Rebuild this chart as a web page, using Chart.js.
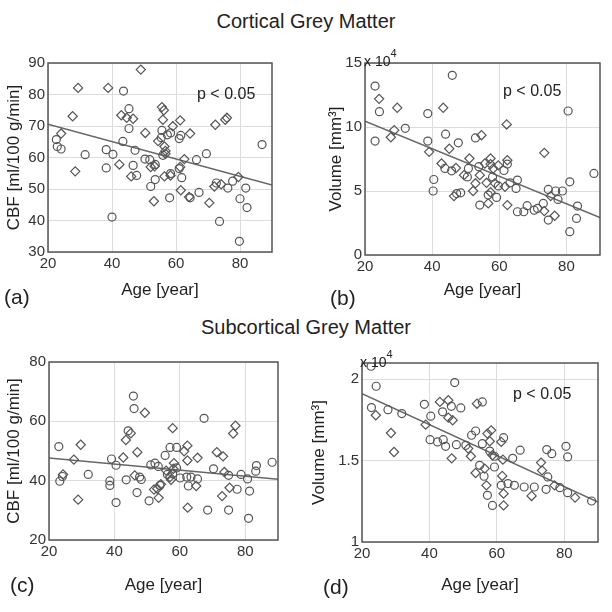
<!DOCTYPE html>
<html>
<head>
<meta charset="utf-8">
<script src="https://cdn.jsdelivr.net/npm/chart.js@4.4.1/dist/chart.umd.min.js"></script>
<style>
  body { margin: 0; background: #fff; font-family: "Liberation Sans", Arial, sans-serif; color: #222; }
  #fig { position: relative; width: 612px; height: 612px; overflow: hidden; }
  canvas { position: absolute; }
  .txt { position: absolute; white-space: nowrap; line-height: 1; }
  .txt sup { font-size: 11px; vertical-align: 9px; }
</style>
</head>
<body>
<div id="fig">
  <canvas id="chartA" width="282" height="255" style="left:0;top:50px"></canvas>
  <canvas id="chartB" width="288" height="255" style="left:322px;top:50px"></canvas>
  <canvas id="chartC" width="288" height="250" style="left:0;top:350px"></canvas>
  <canvas id="chartD" width="303" height="250" style="left:305px;top:350px"></canvas>

  <div class="txt" style="left:0;width:612px;text-align:center;top:11px;font-size:20px">Cortical Grey Matter</div>
  <div class="txt" style="left:0;width:612px;text-align:center;top:317px;font-size:20px">Subcortical Grey Matter</div>

  <div class="txt" style="left:197px;top:86px;font-size:16px">p &lt; 0.05</div>
  <div class="txt" style="left:503px;top:83px;font-size:16px">p &lt; 0.05</div>
  <div class="txt" style="left:513px;top:386px;font-size:16px">p &lt; 0.05</div>

  <div class="txt" style="left:364px;top:48px;font-size:14px">x 10<sup>4</sup></div>
  <div class="txt" style="left:360px;top:349px;font-size:14px">x 10<sup>4</sup></div>

  <div class="txt" style="left:4px;top:286px;font-size:21px">(a)</div>
  <div class="txt" style="left:330px;top:287px;font-size:21px">(b)</div>
  <div class="txt" style="left:10px;top:574px;font-size:21px">(c)</div>
  <div class="txt" style="left:323px;top:576px;font-size:21px">(d)</div>
</div>

<script>
// shared axis
const xTickVals = [20, 40, 60, 80];
const fitAge = [20, 90];

// (a) cortical CBF [ml/100 g/min]
const aCircAge = [43.6, 45.3, 45.3, 22.6, 22.9, 24.1, 31.6, 43.4, 38.2, 40.3, 38.2, 46.6, 47.2, 47.7, 40.0, 50.3, 51.8, 53.5, 52.1, 53.5, 55.4, 55.6, 55.9, 57.3, 58.3, 58.3, 58.0, 61.0, 61.5, 61.0, 61.8, 64.4, 66.4, 67.2, 69.5, 72.6, 73.6, 76.2, 77.7, 80.0, 81.8, 82.2, 79.8, 86.9];
const aCircVal = [81.1, 75.5, 69.2, 65.7, 63.5, 62.7, 60.9, 65.1, 62.5, 61.0, 56.7, 57.5, 62.3, 54.3, 41.1, 59.5, 59.3, 57.8, 50.8, 53.0, 66.3, 68.6, 60.7, 67.2, 67.8, 54.9, 47.2, 66.0, 67.0, 56.5, 53.6, 47.2, 59.3, 48.9, 61.2, 51.9, 39.7, 50.3, 52.5, 46.9, 50.3, 44.1, 33.4, 64.1];
const aDiaAge = [49.0, 29.4, 38.8, 27.7, 42.9, 44.6, 46.6, 24.1, 28.5, 42.3, 46.0, 50.4, 52.1, 53.3, 53.1, 54.4, 55.6, 56.2, 55.9, 56.4, 56.7, 56.7, 56.4, 59.0, 58.3, 61.3, 61.3, 61.5, 62.6, 64.4, 64.1, 70.4, 72.3, 72.0, 74.1, 75.4, 75.9, 79.5];
const aDiaVal = [87.9, 82.1, 82.1, 73.1, 73.4, 72.6, 72.3, 67.6, 55.6, 57.8, 54.0, 67.8, 57.0, 57.2, 46.1, 65.2, 76.0, 75.0, 72.0, 63.5, 62.1, 61.2, 54.0, 69.9, 54.3, 71.8, 57.0, 49.6, 59.5, 67.6, 47.5, 45.6, 70.4, 50.8, 51.5, 72.0, 72.6, 53.8];
const aFit = [70.6, 51.3];
const aYTicks = [30, 40, 50, 60, 70, 80, 90];

// (b) cortical volume [mm^3], in units of 10^4
const bCircAge = [46.0, 23.0, 24.3, 38.7, 23.0, 32.0, 38.7, 44.0, 47.8, 40.5, 40.3, 43.8, 45.8, 47.3, 48.5, 50.8, 52.9, 53.9, 54.2, 56.7, 58.0, 59.2, 59.7, 62.4, 63.2, 65.0, 65.4, 65.4, 67.3, 68.3, 70.4, 71.4, 73.1, 74.6, 74.6, 76.8, 77.5, 78.8, 80.5, 81.0, 81.0, 83.3, 83.0, 88.2, 50.5, 61.4];
const bCircVal = [14.04, 13.2, 11.2, 11.05, 8.9, 9.9, 8.9, 9.44, 8.76, 5.9, 5.0, 6.76, 6.58, 4.8, 4.86, 6.76, 9.15, 6.9, 3.9, 4.68, 6.1, 4.5, 5.4, 7.1, 5.64, 5.2, 5.85, 3.38, 3.38, 3.85, 3.5, 3.64, 4.03, 2.73, 5.12, 5.0, 4.34, 5.0, 11.25, 5.72, 1.82, 3.82, 2.86, 6.37, 6.1, 6.6];
const bDiaAge = [24.2, 29.6, 43.3, 28.7, 27.7, 39.1, 45.1, 42.8, 47.1, 46.5, 49.5, 51.1, 54.7, 52.2, 52.9, 54.2, 55.7, 56.2, 56.7, 57.4, 57.4, 57.4, 58.2, 58.7, 59.7, 62.2, 62.4, 61.7, 62.4, 73.4, 73.4, 75.3, 76.5];
const bDiaVal = [12.2, 11.5, 11.5, 9.75, 9.2, 8.06, 8.3, 7.15, 6.8, 4.6, 6.24, 7.54, 9.36, 5.0, 5.6, 6.24, 7.15, 5.64, 4.03, 7.54, 7.1, 4.9, 6.76, 5.6, 7.0, 10.2, 7.4, 5.33, 3.9, 3.43, 7.98, 4.6, 3.07];
const bFit = [10.45, 2.92];
const bYTicks = [0, 5, 10, 15];

// (c) subcortical CBF [ml/100 g/min]
const cCircAge = [45.8, 46.0, 67.4, 44.2, 23.0, 39.1, 40.5, 23.3, 24.1, 32.0, 38.6, 38.6, 40.5, 43.6, 47.7, 48.2, 46.9, 50.6, 51.1, 52.4, 53.4, 53.9, 55.5, 57.0, 56.2, 57.8, 59.0, 59.0, 60.1, 62.6, 62.1, 63.4, 65.4, 68.5, 70.3, 74.9, 74.9, 77.5, 78.7, 80.7, 81.3, 81.0, 83.4, 83.2, 88.2];
const cCircVal = [68.5, 64.3, 61.0, 56.8, 51.5, 47.3, 45.2, 39.8, 41.4, 42.1, 39.9, 38.4, 32.6, 40.3, 41.2, 40.4, 36.0, 33.2, 45.3, 45.9, 44.8, 38.4, 48.5, 51.2, 42.1, 42.3, 51.2, 44.3, 40.9, 38.2, 41.2, 41.2, 40.6, 30.1, 44.0, 41.8, 30.1, 37.1, 42.1, 40.6, 36.5, 27.3, 45.1, 43.2, 46.2];
const cDiaAge = [49.3, 77.0, 76.3, 57.8, 45.0, 43.5, 29.7, 47.0, 42.7, 27.6, 24.3, 28.9, 46.2, 52.1, 53.1, 54.2, 53.5, 55.8, 57.0, 57.3, 58.0, 58.2, 61.3, 62.3, 62.3, 62.4, 65.0, 65.4, 71.3, 73.2, 72.9, 73.6, 75.2];
const cDiaVal = [62.9, 58.5, 55.9, 57.7, 56.0, 53.7, 52.1, 49.6, 47.8, 47.1, 42.1, 33.6, 41.8, 37.0, 37.3, 38.8, 34.2, 43.4, 41.2, 40.3, 44.0, 45.9, 49.9, 51.8, 46.8, 30.9, 38.2, 47.7, 49.6, 48.2, 34.8, 42.9, 37.6];
const cFit = [47.6, 40.5];
const cYTicks = [20, 40, 60, 80];

// (d) subcortical volume [mm^3], in units of 10^4
const dCircAge = [22.7, 24.2, 47.5, 22.8, 27.7, 31.8, 38.5, 40.4, 40.2, 43.9, 46.5, 49.3, 42.4, 44.1, 44.8, 48.0, 50.8, 55.7, 52.5, 53.7, 54.9, 55.7, 56.2, 57.2, 57.9, 58.7, 59.3, 59.3, 62.0, 61.3, 63.3, 64.7, 65.2, 66.9, 68.1, 71.1, 74.8, 75.1, 74.6, 76.3, 78.7, 80.5, 81.0, 81.0, 88.1];
const dCircVal = [2.08, 1.957, 1.98, 1.826, 1.813, 1.789, 1.846, 1.773, 1.629, 1.8, 1.834, 1.824, 1.615, 1.629, 1.588, 1.598, 1.594, 1.861, 1.656, 1.682, 1.471, 1.604, 1.404, 1.287, 1.559, 1.225, 1.461, 1.527, 1.641, 1.348, 1.359, 1.514, 1.348, 1.564, 1.338, 1.338, 1.568, 1.4, 1.324, 1.543, 1.334, 1.588, 1.523, 1.303, 1.252];
const dDiaAge = [24.1, 28.6, 29.5, 38.9, 43.1, 45.6, 45.6, 46.9, 46.6, 51.5, 52.3, 54.1, 53.7, 56.4, 56.9, 57.2, 58.3, 57.9, 58.7, 61.3, 61.8, 61.6, 62.0, 62.0, 70.3, 73.1, 73.4, 77.1, 83.2];
const dDiaVal = [1.779, 1.67, 1.553, 1.721, 1.861, 1.871, 1.764, 1.748, 1.514, 1.574, 1.527, 1.85, 1.424, 1.451, 1.348, 1.666, 1.686, 1.619, 1.533, 1.615, 1.506, 1.406, 1.297, 1.225, 1.283, 1.488, 1.44, 1.348, 1.273];
const dFit = [1.912, 1.246];
const dYTicks = [1, 1.5, 2];

const markColor = "#555";
const textColor = "#333";

function pts(xs, ys) {
  return xs.map((x, i) => ({ x: x, y: ys[i] }));
}

// matlab style box round the plot area
const boxPlugin = {
  id: "box",
  afterDatasetsDraw(chart) {
    const a = chart.chartArea;
    const c = chart.ctx;
    c.save();
    c.strokeStyle = "#555";
    c.lineWidth = 1.5;
    c.strokeRect(a.left, a.top, a.right - a.left, a.bottom - a.top);
    c.restore();
  },
};

function makePanel(id, o) {
  return new Chart(document.getElementById(id), {
    type: "scatter",
    data: {
      datasets: [
        {
          data: pts(o.circAge, o.circVal),
          pointStyle: "circle",
          pointRadius: 4,
          borderColor: markColor,
          backgroundColor: "rgba(0,0,0,0)",
          borderWidth: 1.2,
        },
        {
          data: pts(o.diaAge, o.diaVal),
          pointStyle: "rectRot",
          pointRadius: 4.6,
          borderColor: markColor,
          backgroundColor: "rgba(0,0,0,0)",
          borderWidth: 1.2,
        },
        {
          data: pts(fitAge, o.fit),
          showLine: true,
          pointRadius: 0,
          borderColor: "#666",
          borderWidth: 1.5,
        },
      ],
    },
    options: {
      responsive: false,
      animation: false,
      events: [],
      layout: { padding: { top: o.padTop, right: 10, left: 0, bottom: 0 } },
      plugins: { legend: { display: false }, tooltip: { enabled: false } },
      scales: {
        x: {
          type: "linear",
          min: 20,
          max: 90,
          afterBuildTicks: (s) => { s.ticks = xTickVals.map((v) => ({ value: v })); },
          afterFit: (s) => { s.height = o.xH; },
          grid: { color: "#dcdcdc", drawTicks: false },
          border: { display: false },
          ticks: { color: textColor, font: { size: 15 }, padding: 3, maxRotation: 0 },
          title: { display: true, text: "Age [year]", color: "#222", font: { size: 17 }, padding: { top: 0, bottom: 4 } },
        },
        y: {
          type: "linear",
          min: o.yMin,
          max: o.yMax,
          afterBuildTicks: (s) => { s.ticks = o.yTicks.map((v) => ({ value: v })); },
          afterFit: (s) => { s.width = o.yW; },
          grid: { color: "#dcdcdc", drawTicks: false },
          border: { display: false },
          ticks: { color: textColor, font: { size: 15 }, padding: 3, callback: (v) => String(v) },
          title: { display: true, text: o.yTitle, color: "#222", font: { size: 17 }, padding: { top: 4, bottom: 0 } },
        },
      },
    },
    plugins: [boxPlugin],
  });
}

makePanel("chartA", {
  circAge: aCircAge, circVal: aCircVal, diaAge: aDiaAge, diaVal: aDiaVal, fit: aFit,
  yMin: 30, yMax: 90, yTicks: aYTicks, yTitle: "CBF [ml/100 g/min]",
  padTop: 13, yW: 48, xH: 53,
});
makePanel("chartB", {
  circAge: bCircAge, circVal: bCircVal, diaAge: bDiaAge, diaVal: bDiaVal, fit: bFit,
  yMin: 0, yMax: 15, yTicks: bYTicks, yTitle: "Volume [mm³]",
  padTop: 13, yW: 43, xH: 50,
});
makePanel("chartC", {
  circAge: cCircAge, circVal: cCircVal, diaAge: cDiaAge, diaVal: cDiaVal, fit: cFit,
  yMin: 20, yMax: 80, yTicks: cYTicks, yTitle: "CBF [ml/100 g/min]",
  padTop: 11, yW: 49, xH: 60,
});
makePanel("chartD", {
  circAge: dCircAge, circVal: dCircVal, diaAge: dDiaAge, diaVal: dDiaVal, fit: dFit,
  yMin: 1, yMax: 2.1, yTicks: dYTicks, yTitle: "Volume [mm³]",
  padTop: 13, yW: 57, xH: 58,
});
</script>
</body>
</html>
